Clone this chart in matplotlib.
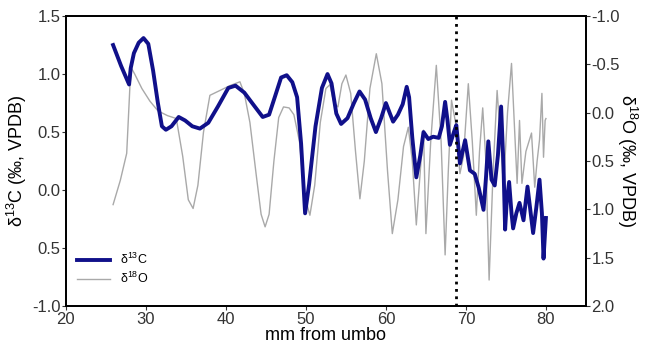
import matplotlib.pyplot as plt
from matplotlib.lines import Line2D

plt.rcParams['font.family'] = ['Liberation Sans', 'DejaVu Sans']
plt.rcParams['mathtext.fontset'] = 'custom'
plt.rcParams['mathtext.rm'] = 'Liberation Sans'

# d13C (left axis)
c_mm = [25.9, 26.9, 27.9, 28.1, 28.5, 29.1, 29.7, 30.3, 30.9, 31.5, 32.0, 32.5, 33.2, 34.1, 34.9,
        35.8, 36.75, 37.8, 39.0, 40.3, 41.2, 42.3, 43.5, 44.6, 45.4, 46.2, 46.9, 47.6, 48.3, 48.9,
        49.4, 49.9, 50.4, 51.2, 52.0, 52.7, 53.2, 53.8, 54.4, 55.2, 56.0, 56.7, 57.4, 58.1, 58.75,
        59.4, 60.0, 60.5, 60.9, 61.5, 62.1, 62.6, 62.9, 63.3, 63.8, 64.3, 64.7, 65.3, 65.9, 66.6,
        67.0, 67.4, 67.7, 68.0, 68.5, 68.8, 69.25, 69.9, 70.5, 71.1, 71.6, 72.2, 72.5, 72.8, 73.2,
        73.6, 74.0, 74.4, 74.7, 74.9, 75.1, 75.4, 75.7, 75.9, 76.3, 76.7, 77.2, 77.7, 78.1, 78.4,
        78.8, 79.2, 79.5, 79.7, 80.0]
c_val = [1.25, 1.07, 0.91, 1.05, 1.18, 1.27, 1.31, 1.26, 1.03, 0.75, 0.55, 0.52, 0.55, 0.63, 0.60,
         0.55, 0.53, 0.58, 0.72, 0.88, 0.90, 0.84, 0.73, 0.63, 0.65, 0.82, 0.97, 0.99, 0.93, 0.80,
         0.40, -0.20, 0.05, 0.55, 0.88, 1.00, 0.92, 0.66, 0.57, 0.62, 0.75, 0.85, 0.78, 0.62, 0.50,
         0.62, 0.75, 0.66, 0.59, 0.65, 0.74, 0.89, 0.80, 0.45, 0.11, 0.30, 0.50, 0.44, 0.46, 0.45,
         0.55, 0.76, 0.60, 0.39, 0.50, 0.56, 0.23, 0.43, 0.17, 0.14, 0.02, -0.17, 0.10, 0.42, 0.09,
         0.04, 0.30, 0.72, 0.20, -0.34, -0.10, 0.07, -0.20, -0.33, -0.20, -0.11, -0.26, 0.03, -0.20, -0.37,
         -0.15, 0.09, -0.20, -0.59, -0.24]

# d18O (right axis, inverted)
o_mm = [25.9, 26.8, 27.6, 28.0, 28.2, 28.6, 29.5, 30.5, 31.5, 32.7, 33.8, 34.6, 35.3, 35.9, 36.5,
        37.2, 38.0, 39.0, 40.5, 41.75, 42.3, 43.0, 43.8, 44.4, 44.9, 45.4, 46.0, 46.6, 47.2, 47.9,
        48.5, 49.2, 49.8, 50.5, 51.1, 51.8, 52.5, 53.0, 53.5, 54.0, 54.5, 55.0, 55.6, 56.2, 56.75,
        57.3, 58.0, 58.8, 59.5, 60.2, 60.8, 61.5, 62.2, 62.8, 63.3, 63.8, 64.3, 64.7, 65.0, 65.6,
        66.3, 66.9, 67.4, 67.8, 68.2, 68.7, 69.25, 69.7, 70.3, 70.8, 71.3, 71.7, 72.1, 72.5, 72.9,
        73.4, 73.9, 74.3, 74.7, 75.2, 75.7, 76.1, 76.4, 76.7, 77.0, 77.5, 78.2, 78.6, 78.9, 79.2,
        79.5, 79.7, 79.9, 80.0]
o_val = [0.95, 0.70, 0.42, -0.27, -0.46, -0.40, -0.25, -0.12, -0.02, 0.03, 0.06, 0.45, 0.90, 0.99, 0.75,
         0.20, -0.18, -0.22, -0.28, -0.32, -0.20, 0.10, 0.65, 1.05, 1.18, 1.05, 0.50, 0.05, -0.06, -0.05,
         0.02, 0.30, 0.85, 1.06, 0.75, 0.10, -0.25, -0.29, -0.10, -0.06, -0.30, -0.39, -0.20, 0.40, 0.89,
         0.50, -0.25, -0.61, -0.30, 0.60, 1.25, 0.90, 0.35, 0.15, 0.50, 1.16, 0.60, 0.18, 1.25, 0.30,
         -0.49, 0.30, 1.47, 0.60, -0.13, 0.10, 0.63, 0.45, -0.30, 0.30, 1.06, 0.40, -0.05, 0.50, 1.73,
         0.60, -0.23, 0.25, 0.77, 0.00, -0.51, 0.20, 0.73, 0.08, 0.73, 0.40, 0.21, 0.77, 0.50, 0.28,
         -0.20, 0.46, 0.08, 0.06]

left_ticks = [1.5, 1.0, 0.5, 0.0, -0.5, -1.0]
left_labels = ['1.5', '1.0', '0.5', '0.0', '0.5', '-1.0']
right_ticks = [-1.0, -0.5, 0.0, 0.5, 1.0, 1.5, 2.0]
boundary_mm = 68.8

fig = plt.figure(figsize=(6.46, 3.56), dpi=100)
ax = fig.add_axes([0.102, 0.140, 0.805, 0.815])
ax2 = ax.twinx()

ax2.plot(o_mm, o_val, color='#a9a9a9', lw=1.0, solid_joinstyle='round')
ax.plot(c_mm, c_val, color='#10108a', lw=2.8, solid_joinstyle='round')
ax.axvline(boundary_mm, color='black', ls=':', lw=2)

ax.set_zorder(ax2.get_zorder() + 1)
ax.patch.set_visible(False)

ax.set_xlim(20, 85)
ax.set_ylim(-1.0, 1.5)
ax2.set_ylim(2.0, -1.0)

ax.set_xticks(range(20, 81, 10))
ax.set_yticks(left_ticks)
ax.set_yticklabels(left_labels)
ax2.set_yticks(right_ticks)
ax2.set_yticklabels([f'{t:.1f}' for t in right_ticks])

for a in (ax, ax2):
    a.tick_params(labelsize=12, colors='#333333', length=3, width=0.8, pad=1)
    for s in a.spines.values():
        s.set_linewidth(1.3)

ax.set_xlabel('mm from umbo', fontsize=13, labelpad=0)
ax.set_ylabel('δ$^{13}$C (‰, VPDB)', fontsize=13, labelpad=2)
ax2.set_ylabel('δ$^{18}$O (‰, VPDB)', fontsize=13, rotation=270, labelpad=14)

handles = [Line2D([], [], color='#10108a', lw=2.8), Line2D([], [], color='#a9a9a9', lw=1.0)]
ax.legend(handles, ['δ$^{13}$C', 'δ$^{18}$O'], loc='lower left', frameon=False,
          fontsize=9, handlelength=2.6, bbox_to_anchor=(0.0, 0.03), labelspacing=0.3)

fig.savefig('out.png', dpi=100)
